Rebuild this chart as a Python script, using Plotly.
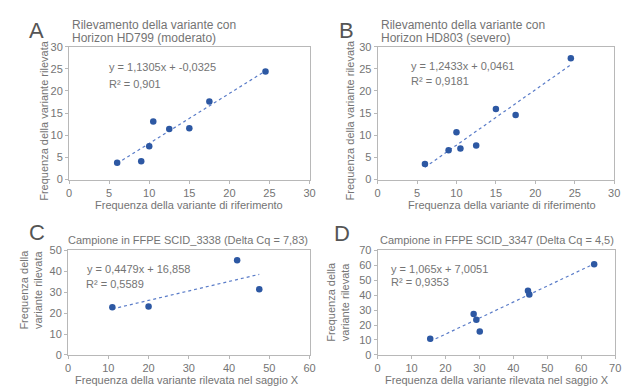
import numpy as np
import plotly.graph_objects as go

# ---------------- data ----------------
a_x = [6, 9, 10, 10.5, 12.5, 15, 17.5, 24.5]
a_y = [3.8, 4.1, 7.5, 13.1, 11.4, 11.6, 17.6, 24.4]
b_x = [6, 9, 10, 10.5, 12.5, 15, 17.5, 24.5]
b_y = [3.5, 6.6, 10.7, 7.0, 7.7, 15.9, 14.6, 27.4]
c_x = [11, 20, 42, 47.5]
c_y = [22.8, 23.1, 45.2, 31.4]
d_x = [15.5, 28.3, 29.1, 30.1, 44.3, 44.7, 63.8]
d_y = [10.9, 27.4, 23.5, 15.7, 43.0, 40.4, 60.7]

letters = ["A", "B", "C", "D"]
titles = [
    ["Rilevamento della variante con", "Horizon HD799 (moderato)"],
    ["Rilevamento della variante con", "Horizon HD803 (severo)"],
    ["Campione in FFPE SCID_3338 (Delta Cq = 7,83)"],
    ["Campione in FFPE SCID_3347 (Delta Cq = 4,5)"],
]
equations = ["y = 1,1305x + -0,0325", "y = 1,2433x + 0,0461",
             "y = 0,4479x + 16,858", "y = 1,065x + 7,0051"]
r2_labels = ["R² = 0,901", "R² = 0,9181", "R² = 0,5589", "R² = 0,9353"]
x_titles = ["Frequenza della variante di riferimento",
            "Frequenza della variante di riferimento",
            "Frequenza della variante rilevata nel saggio X",
            "Frequenza della variante rilevata nel saggio X"]
y_titles = ["Frequenza della variante rilevata",
            "Frequenza della variante rilevata",
            "Frequenza della<br>variante rilevata",
            "Frequenza della<br>variante rilevata"]
x_ranges = [(0, 30, 5), (0, 30, 5), (0, 60, 10), (0, 70, 10)]
y_ranges = [(0, 30, 5), (0, 30, 5), (0, 50, 10), (0, 70, 10)]

# ---------------- layout helpers ----------------
W, H = 634, 391
FONT = "Liberation Sans, Arial, Helvetica, sans-serif"
TXT = "#747474"
AXC = "#b8b8b8"
MARK = "#2d58a3"
TREND = "#5a7cc8"


def px(x):
    return x / W


def py(y):
    return 1 - y / H


# plot areas in pixels: (left, right, top, bottom)
boxes = [(67, 311, 42, 179), (380, 620, 42, 179),
         (66, 311, 252, 360), (380, 621, 252, 360)]

series = [(a_x, a_y), (b_x, b_y), (c_x, c_y), (d_x, d_y)]

fig = go.Figure()
layout = dict(
    width=W, height=H, margin=dict(l=0, r=0, t=0, b=0),
    paper_bgcolor="white", plot_bgcolor="white",
    showlegend=False, font=dict(family=FONT, color=TXT, size=11),
)
annotations = []

for i, ((xs, ys), box) in enumerate(zip(series, boxes)):
    n = "" if i == 0 else str(i + 1)
    xa, ya = "x" + n, "y" + n
    l, r, t, b = box
    xr, yr = x_ranges[i], y_ranges[i]
    common = dict(showline=True, mirror=True, linecolor=AXC, linewidth=1,
                  ticks="outside", ticklen=3, tickcolor=AXC, tickwidth=1,
                  showgrid=False, zeroline=False,
                  tickfont=dict(size=11, color=TXT, family=FONT))
    layout["xaxis" + n] = dict(domain=[px(l), px(r)], range=[xr[0], xr[1]],
                               dtick=xr[2], tick0=0, anchor=ya, **common)
    layout["yaxis" + n] = dict(domain=[py(b), py(t)], range=[yr[0], yr[1]],
                               dtick=yr[2], tick0=0, anchor=xa, **common)

    # linear trend line fitted to the data
    k, c0 = np.polyfit(xs, ys, 1)
    tx = np.array([min(xs), max(xs)])
    fig.add_trace(go.Scatter(x=tx, y=k * tx + c0, mode="lines",
                             line=dict(color=TREND, width=1.2, dash="dot"),
                             xaxis=xa, yaxis=ya, hoverinfo="skip"))
    fig.add_trace(go.Scatter(x=xs, y=ys, mode="markers",
                             marker=dict(color=MARK, size=6.5),
                             xaxis=xa, yaxis=ya))

# panel letters
for txt, (x, y) in zip(letters, [(34, 25), (348, 25), (34, 234), (344, 235)]):
    annotations.append(dict(text=txt, x=px(x), y=py(y), xref="paper", yref="paper",
                            showarrow=False, xanchor="center", yanchor="middle",
                            font=dict(size=22, color="#555555", family=FONT)))

# titles
title_pos = [[(68, 20), (68, 33)], [(381, 20), (381, 33)], [(188, 241)], [(501, 241)]]
title_size = [12, 12, 11, 11]
for i, (lines, poss) in enumerate(zip(titles, title_pos)):
    for line, (x, y) in zip(lines, poss):
        annotations.append(dict(text=line, x=px(x), y=py(y), xref="paper", yref="paper",
                                showarrow=False, xanchor="left" if i < 2 else "center",
                                yanchor="middle", font=dict(size=title_size[i], color=TXT)))

# equations
eq_pos = [((106, 63), (105, 80)), ((412, 62), (412, 77)),
          ((83, 271), (82, 287)), ((392, 271), (392, 285))]
for eq, r2, (p1, p2) in zip(equations, r2_labels, eq_pos):
    annotations.append(dict(text=eq, x=px(p1[0]), y=py(p1[1]), xref="paper", yref="paper",
                            showarrow=False, xanchor="left", yanchor="middle",
                            font=dict(size=11, color=TXT)))
    annotations.append(dict(text=r2, x=px(p2[0]), y=py(p2[1]), xref="paper", yref="paper",
                            showarrow=False, xanchor="left", yanchor="middle",
                            font=dict(size=11, color=TXT)))

# axis titles
xt_pos = [(189, 205), (506, 205), (187, 385.5), (501, 385.5)]
for txt, (x, y) in zip(x_titles, xt_pos):
    annotations.append(dict(text=txt, x=px(x), y=py(y), xref="paper", yref="paper",
                            showarrow=False, xanchor="center", yanchor="middle",
                            font=dict(size=11, color=TXT)))
yt_pos = [(42, 118), (352, 118), (28, 293), (339, 305)]
for txt, (x, y) in zip(y_titles, yt_pos):
    annotations.append(dict(text=txt, x=px(x), y=py(y), xref="paper", yref="paper",
                            showarrow=False, xanchor="center", yanchor="middle",
                            textangle=-90, font=dict(size=11, color=TXT)))

layout["annotations"] = annotations
fig.update_layout(**layout)
fig.write_html("out.html", config={"displayModeBar": False},
               post_script="document.body.style.margin='0';document.body.style.overflow='hidden';")
